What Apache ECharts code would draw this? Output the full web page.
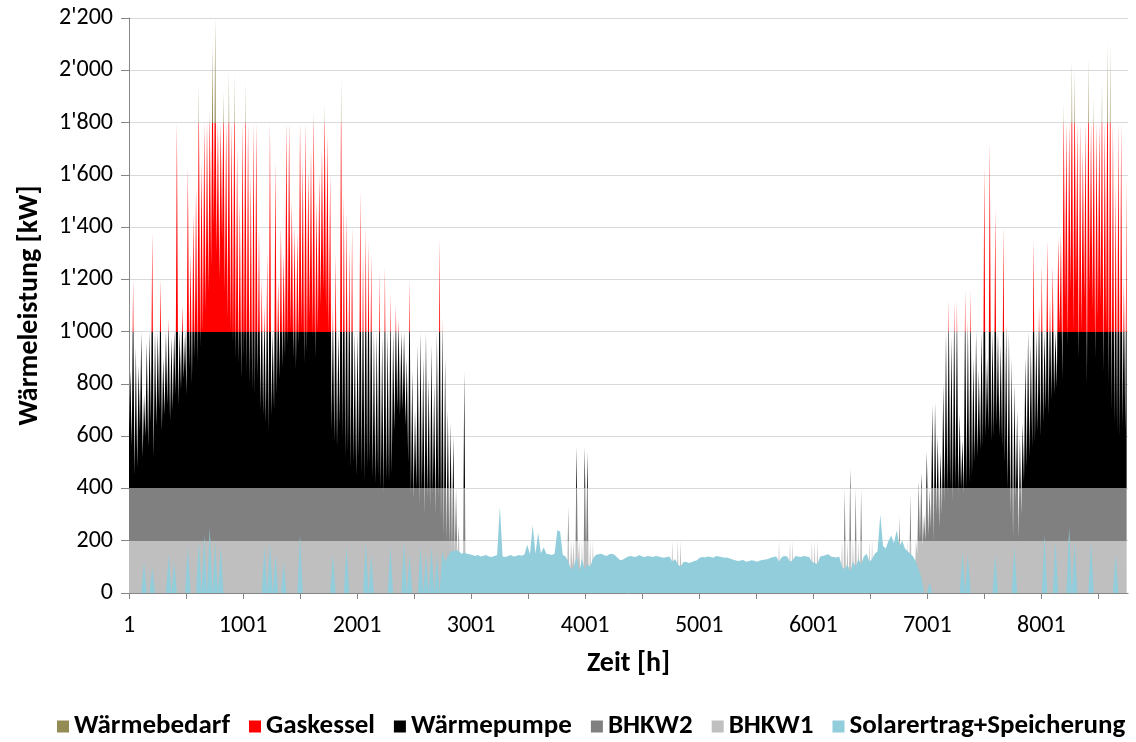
<!DOCTYPE html>
<html lang="de">
<head>
    <meta charset="UTF-8">
    <title>Wärmeleistung über das Jahr</title>
    <script src="https://cdn.jsdelivr.net/npm/echarts/dist/echarts.min.js"></script>
</head>
<body style="margin: 0;">
<div id="container" style="width: 1136px; height: 742px;"></div>
<script type="text/javascript">

    // Tagesweise abgelesene Werte (kW), Tag 0 = Stunden 1..24
    // Nachtwert (Tief) und Tagesspitze der konventionellen Erzeugung
    const dailyLow = [
        620, 560, 450, 480, 620, 520, 600, 560, 650, 520,
        640, 700, 620, 680, 720, 660, 700, 760, 720, 780,
        820, 760, 860, 800, 900, 880, 940, 1000, 1080, 1150,
        1250, 1400, 1300, 1200, 1350, 1150, 1050, 1000, 950, 900,
        880, 820, 900, 850, 800, 780, 760, 820, 700, 680,
        650, 620, 680, 700, 760, 820, 860, 900, 950, 1000,
        900, 860, 950, 1000, 880, 920, 1050, 980, 900, 1000,
        1100, 1150, 1080, 1000, 620, 580, 560, 640, 600, 520,
        540, 480, 500, 450, 520, 460, 430, 480, 500, 440,
        420, 450, 400, 380, 430, 420, 460, 620, 700, 680,
        700, 640, 500, 380, 360, 400, 340, 380, 300, 360,
        330, 380, 300, 360, 280, 220, 200, 180, 160, 150,
        120, 0, 0, 0, 0, 0, 0, 0, 0, 0,
        0, 0, 0, 0, 0, 0, 0, 0, 0, 0,
        0, 0, 0, 0, 0, 0, 0, 0, 0, 0,
        0, 0, 0, 0, 0, 0, 0, 0, 0, 0,
        0, 0, 100, 0, 120, 0, 0, 150, 0, 0,
        0, 0, 0, 0, 0, 0, 0, 0, 0, 0,
        0, 0, 0, 0, 0, 0, 0, 0, 0, 0,
        0, 0, 0, 0, 0, 0, 0, 0, 0, 0,
        0, 0, 0, 0, 0, 0, 0, 0, 0, 0,
        0, 0, 0, 0, 0, 0, 0, 0, 0, 0,
        0, 0, 0, 0, 0, 0, 0, 0, 0, 0,
        0, 0, 0, 0, 0, 0, 0, 0, 0, 0,
        0, 0, 0, 0, 0, 0, 0, 0, 0, 0,
        0, 0, 0, 0, 0, 0, 0, 0, 0, 0,
        0, 0, 0, 0, 0, 0, 0, 0, 0, 0,
        0, 0, 0, 0, 0, 0, 0, 0, 0, 0,
        0, 0, 0, 0, 0, 0, 0, 0, 150, 200,
        180, 200, 220, 250, 200, 300, 250, 300, 350, 380,
        400, 350, 400, 380, 400, 380, 400, 420, 450, 500,
        520, 550, 560, 600, 620, 580, 600, 640, 600, 560,
        500, 400, 300, 210, 350, 210, 300, 425, 480, 520,
        560, 580, 620, 600, 650, 700, 680, 740, 760, 785,
        1000, 820, 1100, 950, 1150, 1000, 1175, 900, 1000, 1120,
        800, 1150, 1080, 900, 1050, 1100, 850, 1000, 800, 700,
        650, 620, 600, 640, 620
    ];

    const dailyPeak = [
        850, 1200, 940, 870, 1000, 760, 960, 1000, 1380, 1000,
        1000, 1200, 900, 1000, 1050, 980, 1000, 1800, 1000, 1100,
        1000, 1630, 1300, 1450, 1550, 1950, 1650, 1800, 1800, 1850,
        2100, 2200, 1800, 1800, 1920, 1800, 2000, 1800, 1990, 1700,
        1500, 1800, 1960, 1800, 1600, 1800, 1800, 1400, 1200, 1100,
        1300, 1800, 1000, 1650, 1200, 1400, 1300, 1800, 1800, 1500,
        1400, 1380, 1800, 1650, 1800, 1620, 1700, 1850, 1500, 1600,
        1700, 1870, 1750, 1600, 1100, 1300, 1000, 1980, 1520, 1460,
        1330, 1400, 1000, 1000, 1540, 1300, 1400, 1350, 1300, 1000,
        1000, 1230, 980, 1250, 1000, 1150, 1000, 1100, 1050, 1000,
        1000, 900, 1200, 850, 700, 950, 1000, 900, 1000, 820,
        950, 800, 1000, 1360, 1050, 900, 700, 650, 600, 400,
        260, 0, 850, 0, 0, 0, 0, 0, 0, 0,
        0, 0, 0, 0, 0, 0, 0, 0, 0, 0,
        0, 0, 0, 0, 0, 0, 0, 0, 0, 0,
        0, 0, 0, 0, 0, 0, 0, 0, 0, 0,
        330, 200, 200, 560, 200, 200, 560, 540, 200, 200,
        0, 0, 0, 0, 0, 0, 0, 0, 0, 0,
        0, 0, 0, 0, 0, 0, 0, 0, 0, 0,
        0, 0, 0, 0, 0, 0, 0, 0, 200, 0,
        200, 200, 0, 0, 0, 0, 0, 0, 0, 0,
        0, 0, 0, 0, 0, 0, 0, 0, 0, 0,
        0, 0, 0, 0, 0, 0, 0, 0, 0, 0,
        0, 0, 0, 0, 0, 0, 0, 200, 0, 0,
        0, 200, 200, 0, 0, 0, 0, 0, 0, 200,
        200, 200, 0, 0, 0, 0, 0, 0, 0, 0,
        200, 400, 200, 475, 200, 400, 200, 400, 0, 0,
        200, 200, 0, 0, 0, 0, 0, 0, 0, 0,
        0, 296, 0, 0, 200, 380, 0, 200, 425, 460,
        300, 540, 400, 720, 730, 600, 540, 800, 1000, 1125,
        980, 1117, 1117, 685, 584, 1160, 1045, 1160, 900, 1000,
        850, 1000, 1637, 900, 1730, 1000, 1470, 1000, 950, 1398,
        1030, 1000, 900, 800, 700, 600, 650, 900, 1000, 950,
        1350, 1000, 1100, 1255, 1000, 1350, 1130, 1250, 1000, 1360,
        1380, 1875, 1800, 1800, 2040, 2000, 1800, 1800, 1700, 1800,
        2048, 1800, 1900, 1800, 1800, 1960, 1800, 2110, 2100, 1800,
        1560, 1800, 1800, 1200, 1600
    ];

    // Solarertrag+Speicherung, Tageswert (kW)
    const solar = [
        0, 0, 0, 0, 0, 120, 0, 0, 100, 0,
        0, 0, 0, 0, 150, 0, 120, 0, 0, 0,
        0, 180, 0, 0, 0, 200, 0, 220, 0, 250,
        0, 200, 0, 180, 0, 0, 0, 0, 0, 0,
        0, 0, 0, 0, 0, 0, 0, 0, 0, 180,
        0, 200, 0, 150, 0, 0, 120, 0, 0, 0,
        0, 0, 220, 0, 0, 0, 0, 0, 0, 0,
        0, 0, 0, 0, 150, 0, 0, 0, 0, 180,
        0, 0, 0, 0, 0, 0, 200, 0, 150, 0,
        0, 0, 0, 0, 0, 180, 0, 0, 0, 0,
        200, 0, 150, 0, 0, 0, 180, 0, 150, 0,
        180, 0, 150, 0, 160, 120, 140, 160, 160, 165,
        160, 150, 155, 150, 148, 145, 142, 145, 140, 143,
        145, 140, 138, 142, 145, 330, 140, 138, 142, 145,
        140, 142, 145, 143, 147, 185, 148, 260, 150, 230,
        152, 175, 150, 148, 145, 150, 240, 235, 145, 140,
        120, 90, 100, 140, 80, 130, 90, 110, 100, 130,
        145, 148, 150, 145, 142, 148, 150, 145, 135, 125,
        128, 135, 140, 142, 138, 140, 145, 140, 138, 142,
        140, 138, 142, 140, 137, 135, 138, 140, 120, 130,
        110, 100, 118, 120, 115, 118, 122, 125, 135, 138,
        136, 140, 138, 135, 142, 140, 138, 135, 136, 132,
        128, 125, 122, 124, 126, 120, 122, 125, 123, 120,
        124, 126, 128, 130, 135, 138, 140, 120, 138, 142,
        140, 120, 125, 142, 140, 138, 142, 140, 138, 120,
        115, 110, 140, 142, 145, 148, 140, 138, 136, 140,
        100, 90, 110, 80, 120, 100, 130, 110, 140, 150,
        120, 130, 150, 160, 300, 180, 170, 200, 220, 190,
        240, 180, 200, 170, 160, 150, 140, 120, 90, 60,
        0, 0, 40, 0, 0, 0, 0, 0, 0, 0,
        0, 0, 0, 0, 160, 0, 150, 0, 0, 0,
        0, 0, 0, 0, 0, 0, 150, 0, 0, 0,
        0, 0, 0, 180, 0, 0, 0, 0, 0, 0,
        0, 0, 0, 0, 220, 0, 0, 0, 200, 0,
        0, 0, 0, 250, 0, 200, 0, 0, 0, 0,
        0, 200, 0, 0, 0, 0, 0, 0, 0, 0,
        150, 0, 0, 0, 0
    ];

    const legendNames = ['Wärmebedarf', 'Gaskessel', 'Wärmepumpe', 'BHKW2', 'BHKW1', 'Solarertrag+Speicherung'];
    const legendColors = ['#948a54', '#ff0000', '#000000', '#808080', '#bfbfbf', '#92cddc'];

    const FONT = 'Carlito, Lato, sans-serif';

    let lastData = [];
    dailyLow.forEach(function (low, d) {
        lastData.push([24 * d, low]);
        lastData.push([24 * d + 12, dailyPeak[d]]);
    });
    let solarData = solar.map(function (v, d) {
        return [24 * d + 12, v];
    });

    function fmtKw(v) {
        if (v >= 1000) {
            return Math.floor(v / 1000) + "'" + String(v % 1000).padStart(3, '0');
        }
        return String(v);
    }

    let series = [{
        name: 'Erzeugung',
        type: 'line',
        data: lastData,
        symbol: 'none',
        showSymbol: false,
        lineStyle: {width: 0},
        areaStyle: {opacity: 1},
        silent: true,
        z: 2
    }, {
        name: 'Solarflaeche',
        type: 'line',
        data: solarData,
        symbol: 'none',
        showSymbol: false,
        lineStyle: {width: 0},
        areaStyle: {color: '#92cddc', opacity: 1},
        silent: true,
        z: 3
    }];
    // nur fuer die Legende
    legendNames.forEach(function (n, i) {
        series.push({name: n, type: 'bar', data: [], itemStyle: {color: legendColors[i]}});
    });

    let myChart = echarts.init(document.getElementById('container'));
    let option = {
        animation: false,
        backgroundColor: '#ffffff',
        grid: {left: 129, right: 8, top: 18, bottom: 149, containLabel: false, outerBoundsMode: 'none'},
        visualMap: {
            type: 'piecewise',
            show: false,
            seriesIndex: 0,
            dimension: 1,
            pieces: [
                {lt: 200, color: '#bfbfbf'},
                {gte: 200, lt: 400, color: '#808080'},
                {gte: 400, lt: 1000, color: '#000000'},
                {gte: 1000, lt: 1800, color: '#ff0000'},
                {gte: 1800, color: '#948a54'}
            ]
        },
        xAxis: {
            type: 'value',
            min: 0,
            max: 8760,
            interval: 500,
            name: 'Zeit [h]',
            nameLocation: 'middle',
            nameGap: 57,
            nameTextStyle: {fontFamily: FONT, fontSize: 28, fontWeight: 'bold', color: '#000'},
            axisLine: {show: true, lineStyle: {color: '#868686', width: 1}},
            axisTick: {show: true, length: 6, lineStyle: {color: '#868686'}},
            axisLabel: {
                fontFamily: FONT, fontSize: 24, color: '#000', margin: 21,
                showMaxLabel: false,
                formatter: function (v) {
                    return v % 1000 === 0 ? String(v + 1) : '';
                }
            },
            splitLine: {show: false}
        },
        yAxis: {
            type: 'value',
            min: 0,
            max: 2200,
            interval: 200,
            name: 'Wärmeleistung [kW]',
            nameLocation: 'middle',
            nameGap: 85,
            nameTextStyle: {fontFamily: FONT, fontSize: 28, fontWeight: 'bold', color: '#000'},
            axisLine: {show: true, lineStyle: {color: '#868686', width: 1}},
            axisTick: {show: true, length: 8, lineStyle: {color: '#868686'}},
            axisLabel: {fontFamily: FONT, fontSize: 24, color: '#000', margin: 16, formatter: fmtKw},
            splitLine: {lineStyle: {color: '#d9d9d9', width: 1}}
        },
        legend: {
            data: legendNames,
            top: 713,
            left: 57,
            icon: 'rect',
            itemWidth: 12,
            itemHeight: 12,
            itemGap: 19,
            padding: 0,
            textStyle: {fontFamily: FONT, fontSize: 27, fontWeight: 'bold', color: '#000'}
        },
        series: series
    };
    myChart.setOption(option, true);

</script>
</body>
</html>
